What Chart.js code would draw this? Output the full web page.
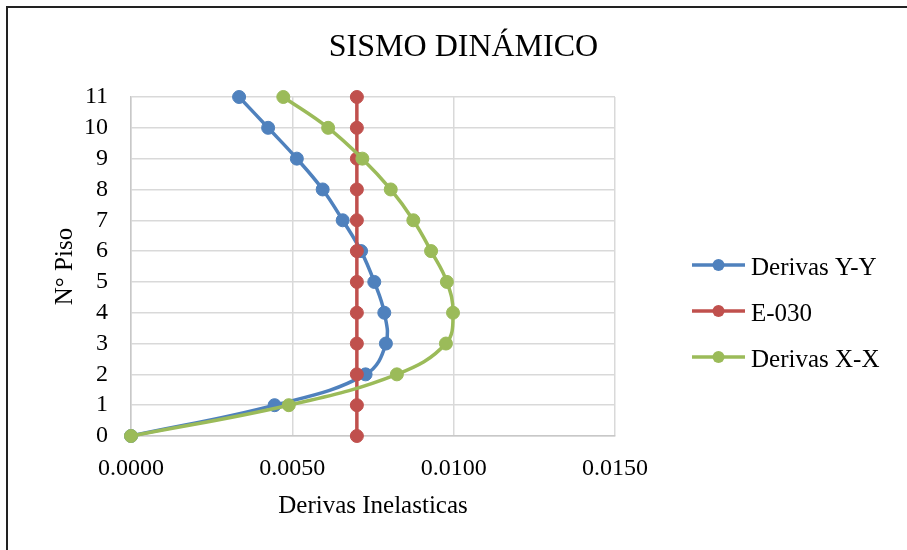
<!DOCTYPE html>
<html lang="es">
<head>
<meta charset="UTF-8">
<title>Sismo Dinámico</title>
<script src="https://cdn.jsdelivr.net/npm/chart.js"></script>
<style>
  html, body { margin: 0; padding: 0; background: #fff; overflow: hidden; }
  canvas { display: block; }
</style>
</head>
<body>
<canvas id="derivasChart" width="907" height="550"></canvas>
<script>
// datos
var pisos = [0, 1, 2, 3, 4, 5, 6, 7, 8, 9, 10, 11];
var derivasYY = [0, 0.00445, 0.00727, 0.00790, 0.00785, 0.00754, 0.00713, 0.00656, 0.00594, 0.00514, 0.00425, 0.00335];
var e030 = [0.007, 0.007, 0.007, 0.007, 0.007, 0.007, 0.007, 0.007, 0.007, 0.007, 0.007, 0.007];
var derivasXX = [0, 0.00489, 0.00824, 0.00976, 0.00998, 0.00979, 0.00930, 0.00875, 0.00805, 0.00717, 0.00611, 0.00472];
var etiquetas = ['Derivas Y-Y', 'E-030', 'Derivas X-X'];
var xTicks = [0, 0.005, 0.010, 0.015];

var FONT = "'Liberation Serif', 'Times New Roman', serif";
var colores = ['#4f81bd', '#c0504d', '#9bbb59'];

function puntos(vals) {
    return vals.map(function (v, i) { return { x: v, y: pisos[i] }; });
}

function serie(label, vals, color, order) {
    return {
        label: label,
        data: puntos(vals),
        borderColor: color,
        backgroundColor: color,
        pointBackgroundColor: color,
        pointBorderColor: color,
        pointRadius: 6.5,
        pointBorderWidth: 1,
        borderWidth: 3.5,
        tension: 0.4,
        showLine: true,
        clip: false,
        order: order
    };
}

// titulo, leyenda y marco al estilo Excel
var decor = {
    id: 'decor',
    beforeDraw: function (chart) {
        var ctx = chart.ctx;
        ctx.save();
        ctx.fillStyle = '#fff';
        ctx.fillRect(0, 0, chart.width, chart.height);
        ctx.restore();
    },
    afterDraw: function (chart) {
        var ctx = chart.ctx;
        ctx.save();
        ctx.strokeStyle = '#222';
        ctx.lineWidth = 2;
        ctx.strokeRect(7, 7, 1000, 1000);

        ctx.fillStyle = '#000';
        ctx.font = '32px ' + FONT;
        ctx.textAlign = 'center';
        ctx.textBaseline = 'alphabetic';
        ctx.fillText('SISMO DINÁMICO', 463.5, 56);

        ctx.textAlign = 'left';
        ctx.font = '25px ' + FONT;
        chart.data.datasets.forEach(function (ds, i) {
            var y = 265 + i * 46;
            ctx.strokeStyle = ds.borderColor;
            ctx.lineWidth = 3.5;
            ctx.beginPath();
            ctx.moveTo(692, y);
            ctx.lineTo(745, y);
            ctx.stroke();
            ctx.fillStyle = ds.borderColor;
            ctx.beginPath();
            ctx.arc(718.5, y, 6, 0, Math.PI * 2);
            ctx.fill();
            ctx.fillStyle = '#000';
            ctx.fillText(ds.label, 751, y + 10);
        });
        ctx.restore();
    }
};

var ctx = document.getElementById('derivasChart').getContext('2d');
var chart = new Chart(ctx, {
    type: 'scatter',
    data: {
        datasets: [
            serie(etiquetas[0], derivasYY, colores[0], 2),
            serie(etiquetas[1], e030, colores[1], 1),
            serie(etiquetas[2], derivasXX, colores[2], 0)
        ]
    },
    options: {
        responsive: false,
        animation: false,
        devicePixelRatio: 1,
        layout: { padding: { top: 97, right: 292, bottom: 0, left: 0 } },
        plugins: {
            legend: { display: false },
            title: { display: false },
            tooltip: { enabled: false }
        },
        scales: {
            x: {
                type: 'linear',
                min: 0,
                max: 0.015,
                afterFit: function (s) { s.height = 114; },
                afterBuildTicks: function (s) {
                    s.ticks = xTicks.map(function (v) { return { value: v }; });
                },
                ticks: {
                    padding: 18,
                    autoSkip: false,
                    maxRotation: 0,
                    color: '#000',
                    font: { family: FONT, size: 24 },
                    callback: function (v) { return Number(v).toFixed(4); }
                },
                grid: { color: '#d9d9d9', lineWidth: 1.5, drawTicks: false },
                border: { color: '#c8c8c8', width: 1.5 },
                title: {
                    display: true,
                    text: 'Derivas Inelasticas',
                    color: '#000',
                    font: { family: FONT, size: 25 },
                    padding: { top: 0, bottom: 29 }
                }
            },
            y: {
                type: 'linear',
                min: 0,
                max: 11,
                afterFit: function (s) { s.width = 131; },
                ticks: {
                    stepSize: 1,
                    autoSkip: false,
                    padding: 23,
                    color: '#000',
                    font: { family: FONT, size: 24 }
                },
                grid: { color: '#d9d9d9', lineWidth: 1.5, drawTicks: false },
                border: { color: '#c8c8c8', width: 1.5 },
                title: {
                    display: true,
                    text: 'N° Piso',
                    color: '#000',
                    font: { family: FONT, size: 25 },
                    padding: { top: 50, bottom: 0 }
                }
            }
        }
    },
    plugins: [decor]
});
</script>
</body>
</html>
